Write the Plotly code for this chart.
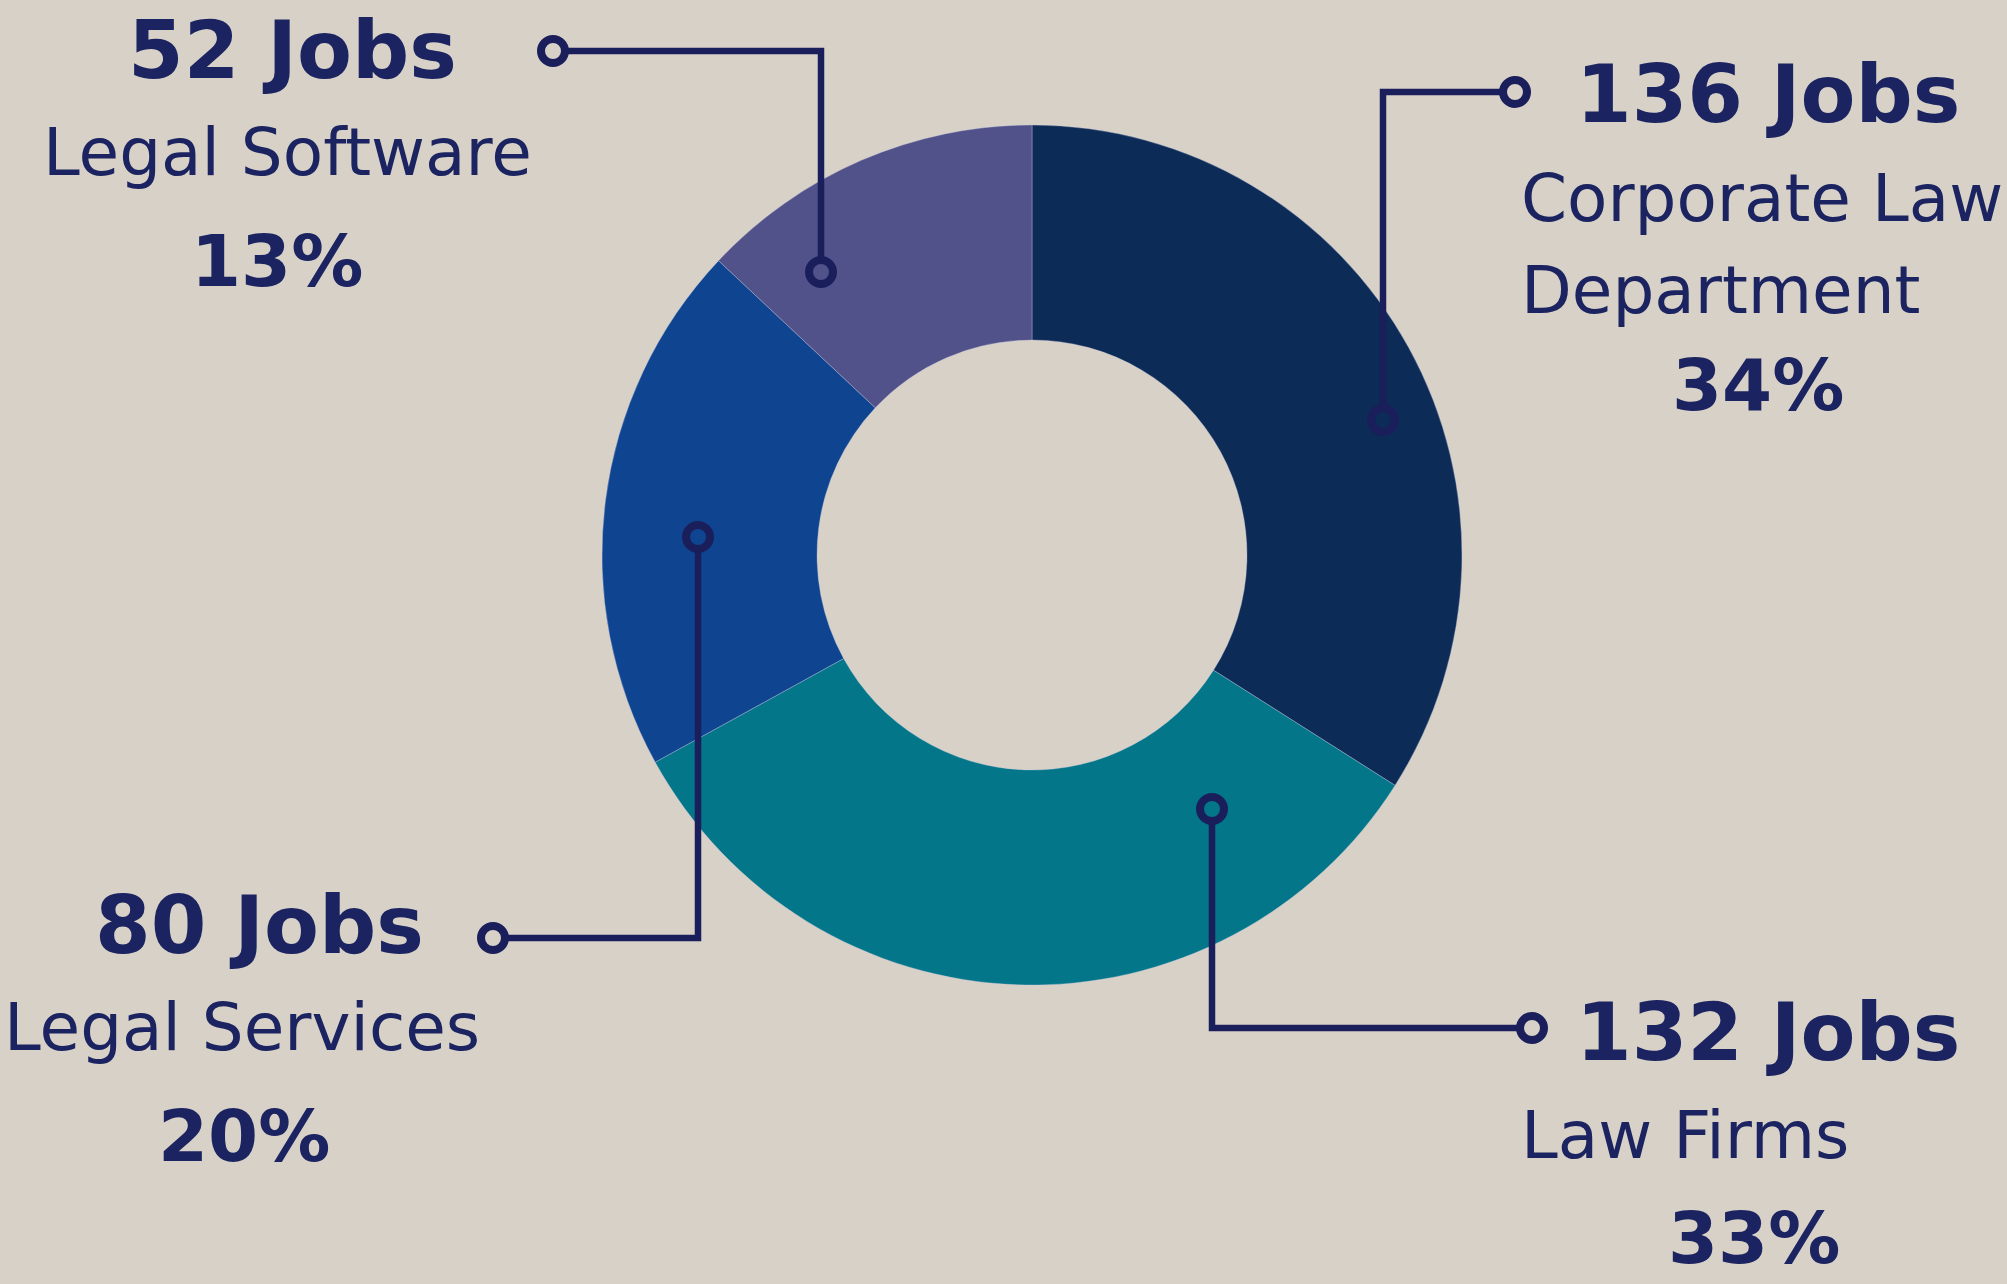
import plotly.graph_objects as go

# ---- data ----
categories = ["Corporate Law Department", "Law Firms", "Legal Services", "Legal Software"]
jobs = [136, 132, 80, 52]
label_lines = [["Corporate Law", "Department"], ["Law Firms"], ["Legal Services"], ["Legal Software"]]

# ---- styles ----
W, H = 2007, 1284
BG = "#d8d1c7"
NAVY = "#1b2461"
LINE_NAVY = "#1a1f5c"
slice_colors = ["#0d2b57", "#037689", "#0f4590", "#52528a"]
FONT = "DejaVu Sans"

# donut geometry (pixels)
cx, cy, R = 1032, 555, 430

total = sum(jobs)
pcts = [round(v / total * 100) for v in jobs]

fig = go.Figure()

fig.add_trace(go.Pie(
    labels=categories, values=jobs, hole=0.5, sort=False,
    direction="clockwise", rotation=0,
    marker=dict(colors=slice_colors, line=dict(color="rgba(200,200,230,0.35)", width=1)),
    textinfo="none", hoverinfo="skip", showlegend=False,
    domain=dict(x=[(cx - R) / W, (cx + R) / W], y=[(H - cy - R) / H, (H - cy + R) / H]),
))

# invisible trace to establish pixel-coordinate axes
fig.add_trace(go.Scatter(x=[0, W], y=[0, H], mode="markers", marker=dict(opacity=0),
                         hoverinfo="skip", showlegend=False))

# connector layout: (outer dot, corner, inner dot) in pixel coords, per category
connectors = [
    [(1515, 92), (1383, 92), (1383, 420)],
    [(1532, 1028), (1212, 1028), (1212, 809)],
    [(493, 938), (698, 938), (698, 537)],
    [(553, 51), (821, 51), (821, 272)],
]
DOT_R = 12

shapes = []
for i, path in enumerate(connectors):
    d = "M " + " L ".join(f"{x},{y}" for x, y in path)
    shapes.append(dict(type="path", path=d, xref="x", yref="y", layer="above",
                       line=dict(color=LINE_NAVY, width=6.5)))
for i, path in enumerate(connectors):
    for (x, y), fill in ((path[0], BG), (path[-1], slice_colors[i])):
        shapes.append(dict(type="circle", xref="x", yref="y", layer="above",
                           x0=x - DOT_R, x1=x + DOT_R, y0=y - DOT_R, y1=y + DOT_R,
                           fillcolor=fill, line=dict(color=LINE_NAVY, width=8)))

# text blocks: (x, y-center, anchor) per category for jobs / names / percent
text_pos = [
    dict(jobs=(1768, 94, "center"), names=[(1519, 198, "left"), (1519, 290, "left")], pct=(1758, 385, "center")),
    dict(jobs=(1768, 1032, "center"), names=[(1519, 1135, "left")], pct=(1754, 1238, "center")),
    dict(jobs=(259, 925, "center"), names=[(242, 1027, "center")], pct=(244, 1136, "center")),
    dict(jobs=(292, 50, "center"), names=[(287, 152, "center")], pct=(277, 261, "center")),
]

annotations = []
for i in range(len(categories)):
    tp = text_pos[i]
    x, y, a = tp["jobs"]
    annotations.append(dict(x=x, y=y, xref="x", yref="y", xanchor=a, yanchor="middle",
                            text=f"<b>{jobs[i]} Jobs</b>", showarrow=False,
                            font=dict(family=FONT, size=80, color=NAVY)))
    for (x, y, a), line in zip(tp["names"], label_lines[i]):
        annotations.append(dict(x=x, y=y, xref="x", yref="y", xanchor=a, yanchor="middle",
                                text=line, showarrow=False,
                                font=dict(family=FONT, size=66, color=NAVY)))
    x, y, a = tp["pct"]
    annotations.append(dict(x=x, y=y, xref="x", yref="y", xanchor=a, yanchor="middle",
                            text=f"<b>{pcts[i]}%</b>", showarrow=False,
                            font=dict(family=FONT, size=72, color=NAVY)))

fig.update_layout(
    width=W, height=H,
    margin=dict(l=0, r=0, t=0, b=0),
    paper_bgcolor=BG, plot_bgcolor="rgba(0,0,0,0)",
    xaxis=dict(range=[0, W], visible=False, fixedrange=True, domain=[0, 1]),
    yaxis=dict(range=[H, 0], visible=False, fixedrange=True, domain=[0, 1]),
    annotations=annotations,
    shapes=shapes,
    showlegend=False,
)

fig.write_html("out.html", config={"displayModeBar": False},
               post_script="document.body.style.margin='0';document.body.style.overflow='hidden';")
